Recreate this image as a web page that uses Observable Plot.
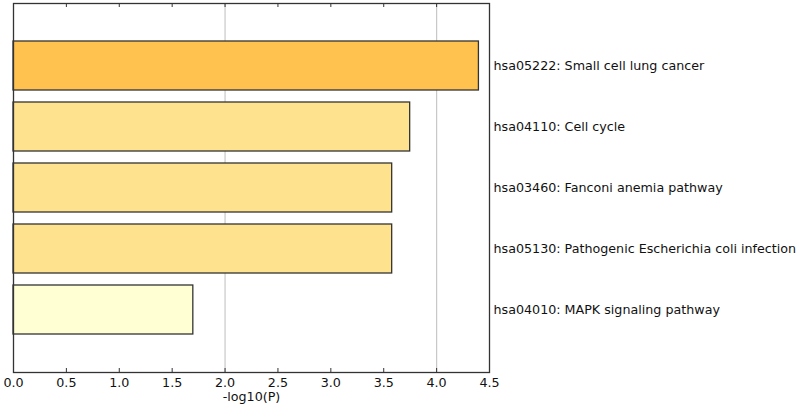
<!DOCTYPE html>
<html>
<head>
<meta charset="utf-8">
<script src="https://cdn.jsdelivr.net/npm/d3@7"></script>
<script src="https://cdn.jsdelivr.net/npm/@observablehq/plot@0.6"></script>
<style>
  html, body { margin: 0; padding: 0; background: #fff; }
  svg { display: block; }
</style>
</head>
<body>
<div id="chart"></div>
<script>
const terms = [
  "hsa05222: Small cell lung cancer",
  "hsa04110: Cell cycle",
  "hsa03460: Fanconi anemia pathway",
  "hsa05130: Pathogenic Escherichia coli infection",
  "hsa04010: MAPK signaling pathway"
];
const logP = [4.40, 3.75, 3.58, 3.58, 1.70];
const fills = ["#ffc24f", "#ffe28e", "#ffe28e", "#ffe28e", "#ffffd3"];
const xTicks = [0, 0.5, 1, 1.5, 2, 2.5, 3, 3.5, 4, 4.5];
const gridAt = [2, 4];

const data = terms.map((t, i) => ({term: t, value: logP[i], fill: fills[i]}));

const W = 800, H = 409;
const mTop = 3, mBottom = 37, mLeft = 13, mRight = 311;
const frameH = H - mTop - mBottom;

const chart = Plot.plot({
  width: W,
  height: H,
  marginTop: mTop,
  marginBottom: mBottom,
  marginLeft: mLeft,
  marginRight: mRight,
  style: {fontFamily: "'DejaVu Sans', sans-serif", fontSize: "12.7px", color: "#111", background: "#fff"},
  x: {domain: [0, 4.5], ticks: xTicks},
  y: {domain: terms, padding: 0.2, paddingOuter: 0.6},
  marks: [
    Plot.ruleX(gridAt, {x: d => d, stroke: "#c8c8c8", strokeWidth: 1.2}),
    Plot.barX(data, {x: "value", y: "term", fill: "fill", stroke: "#333", strokeWidth: 1.3}),
    Plot.ruleX(xTicks, {x: d => d, insetTop: frameH - 4, stroke: "#333", strokeWidth: 1}),
    Plot.ruleX(xTicks, {x: d => d, insetBottom: frameH - 4, stroke: "#333", strokeWidth: 1}),
    Plot.axisX({anchor: "bottom", ticks: xTicks, tickSize: 0, tickPadding: 5, tickFormat: d3.format(".1f"),
      label: "-log10(P)", labelAnchor: "center", labelArrow: "none", labelOffset: 28, fill: "#111"}),
    Plot.axisY({anchor: "right", tickSize: 0, tickPadding: 4, label: null, fill: "#111"}),
    Plot.frame({stroke: "#333", strokeWidth: 1.3})
  ]
});
document.getElementById("chart").appendChild(chart);
</script>
</body>
</html>
